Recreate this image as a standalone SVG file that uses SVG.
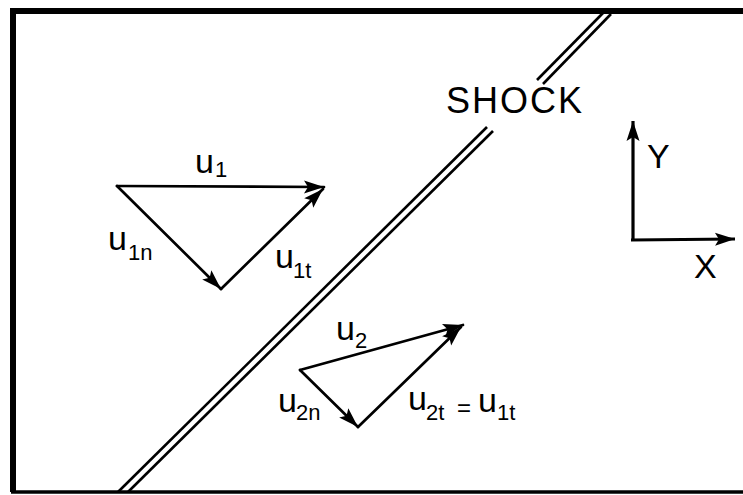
<svg xmlns="http://www.w3.org/2000/svg" width="743" height="495" viewBox="0 0 743 495">
<style>
.frame{fill:none;stroke:#000;stroke-linejoin:miter}
.shock{stroke:#000;stroke-width:2.6;fill:none}
.vec{stroke:#000;stroke-width:2.7;fill:none;stroke-linecap:round}
.axis{stroke:#000;stroke-width:3.2;fill:none}
text{font-family:"Liberation Sans",Arial,sans-serif;fill:#000}
.m{font-size:34px}
.s{font-size:22px}
.big{font-size:36px;letter-spacing:2px}
</style>
<defs>
<marker id="ah" markerUnits="userSpaceOnUse" viewBox="-2 -8 24 16" refX="20" refY="0" markerWidth="24" markerHeight="16" orient="auto">
<path d="M0,-6.5 L20,0 L0,6.5 L4,0 z" fill="#000"/>
</marker>
</defs>
<rect width="743" height="495" fill="#fff"/>
<g id="frame">
<path class="frame" d="M743,11 L13,11 L13,492" stroke-width="6"/>
<path class="frame" d="M11,492 L743,492" stroke-width="3.5"/>
</g>
<g id="shock">
<line class="shock" x1="118" y1="492" x2="487" y2="127"/>
<line class="shock" x1="128" y1="492" x2="493" y2="131"/>
<line class="shock" x1="537" y1="80" x2="603" y2="13"/>
<line class="shock" x1="543" y1="84" x2="611" y2="14"/>
<text class="big" x="446" y="113">SHOCK</text>
</g>
<g id="connectors">
<line class="vec" x1="117" y1="186" x2="324" y2="187" marker-end="url(#ah)"/>
<line class="vec" x1="117" y1="186" x2="221" y2="289" marker-end="url(#ah)"/>
<line class="vec" x1="221" y1="289" x2="323" y2="189" marker-end="url(#ah)"/>
<line class="vec" x1="300" y1="370" x2="463" y2="325" marker-end="url(#ah)"/>
<line class="vec" x1="300" y1="370" x2="358" y2="427" marker-end="url(#ah)"/>
<line class="vec" x1="358" y1="427" x2="461" y2="327" marker-end="url(#ah)"/>
<line class="axis" x1="633" y1="241" x2="633" y2="121" marker-end="url(#ah)"/>
<line class="axis" x1="631" y1="240" x2="735" y2="239" marker-end="url(#ah)"/>
</g>
<g id="label-u1"><text class="m" x="195" y="173">u</text><text class="s" x="215" y="177">1</text></g>
<g id="label-u1n"><text class="m" x="108" y="250">u</text><text class="s" x="128" y="260">1n</text></g>
<g id="label-u1t"><text class="m" x="275" y="268">u</text><text class="s" x="293" y="278">1t</text></g>
<g id="label-u2"><text class="m" x="336" y="340">u</text><text class="s" x="355" y="348">2</text></g>
<g id="label-u2n"><text class="m" x="278" y="412">u</text><text class="s" x="296" y="420">2n</text></g>
<g id="label-u2t"><text class="m" x="408" y="410">u</text><text class="s" x="426" y="420">2t</text><text style="font-size:24px" x="457" y="416">=</text><text class="m" x="478" y="412">u</text><text class="s" x="497" y="420">1t</text></g>
<g id="axis-labels"><text class="m" x="647" y="168">Y</text><text class="m" x="694" y="278">X</text></g>
</svg>
